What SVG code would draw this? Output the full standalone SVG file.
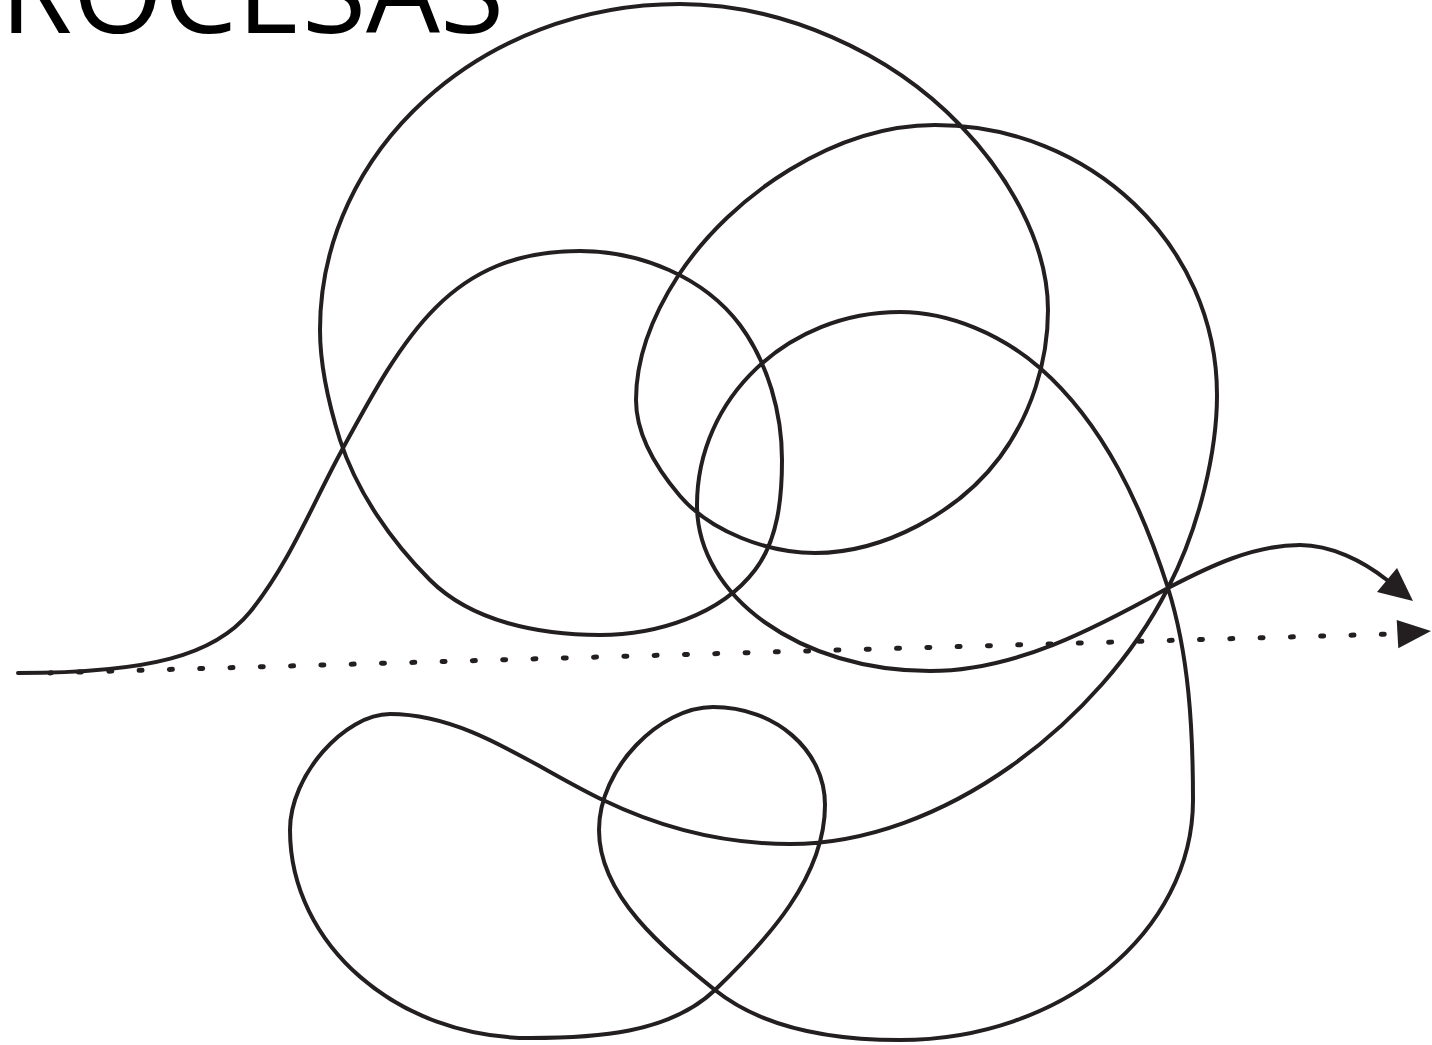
<svg xmlns="http://www.w3.org/2000/svg" width="1432" height="1045" viewBox="0 0 1432 1045">
<style>
.curve{fill:none;stroke:#231f20;stroke-width:4;stroke-linecap:round;stroke-linejoin:round}
.dots{fill:none;stroke:#231f20;stroke-width:5;stroke-linecap:round;stroke-dasharray:3 27.31;stroke-dashoffset:1.5}
.head{fill:#231f20}
.title{font-family:"Open Sans","Liberation Sans",sans-serif;font-size:117px;font-weight:500;fill:#000}
</style>
<rect width="1432" height="1045" fill="#fff"/>
<text class="title" x="0" y="33">ROCESAS</text>
<g id="dotted-arrow">
<path class="dots" d="M49.7,672.9 L1392,634"/>
<polygon class="head" points="1396.7,620 1431,631 1398.3,648.3"/>
</g>
<g id="tangled-arrow">
<path class="curve" d="M18,673 C150,673 215,655 250,612 C289,564 312,505 342,450 C404,336 450,251 580,251 C640,251 704,277 740,325 C768,363 782,413 782,460 C782,498 778,540 755,570 C721,615 656,635 600,635 C540,635 472,622 430,580 C391,541 357,492 340,440 C329,405 320,367 320,330 C320,150 481,4 680,4 C782,4 890,52 960,125 C1007,174 1048,242 1048,310 C1048,362 1031,415 1000,457 C959,512 884,553 815,553 C768,553 711,532 680,496 C657,469 636,435 636,400 C636,356 654,313 678,276 C732,194 836,125 935,125 C1090,125 1217,245 1217,395 C1217,450 1200,526 1168,588 C1100,722 943,844 790,844 C726,844 661,828 603,800 C534,767 467,714 390,714 C345,714 290,775 290,830 C290,945 398,1038 530,1038 C594,1038 669,1034 715,990 C767,940 825,877 825,805 C825,750 775,707 713,707 C660,707 599,768 599,830 C599,896 664,949 715,990 C765,1030 836,1040 900,1040 C1062,1040 1193,932 1193,800 C1193,729 1189,655 1168,588 C1142,507 1104,424 1040,368 C1002,335 950,312 900,312 C788,312 697,398 697,505 C697,597 801,671 930,671 C1015,671 1094,629 1168,588 C1210,566 1254,545 1300,545 C1331,545 1363,561 1387,580"/>
<polygon class="head" points="1377,592 1397,568 1413,601"/>
</g>
</svg>
